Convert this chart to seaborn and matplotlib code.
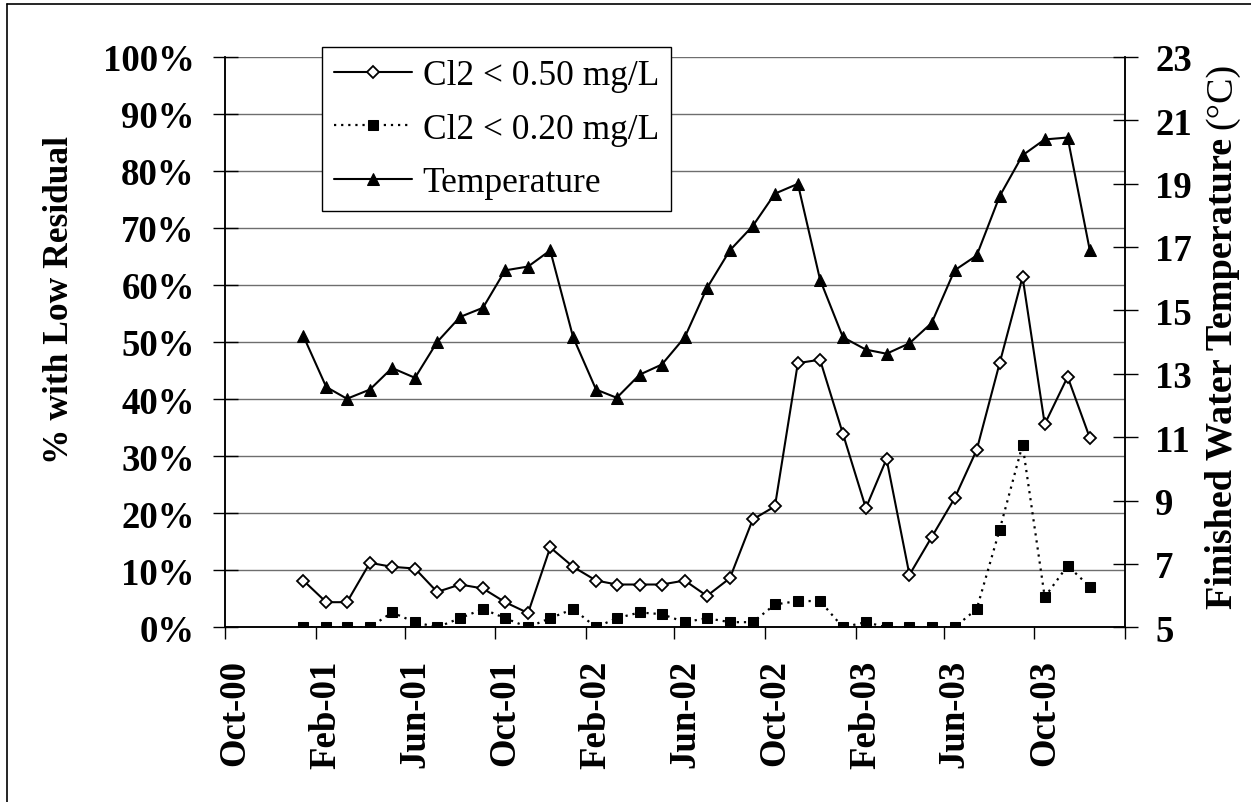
import matplotlib
matplotlib.use("Agg")
import matplotlib.pyplot as plt
import matplotlib.transforms as mtransforms
import matplotlib.dates as mdates
from matplotlib.lines import Line2D
from matplotlib.ticker import FixedLocator, PercentFormatter, MultipleLocator
import seaborn as sns
import pandas as pd
import numpy as np

# ---- data -------------------------------------------------------------
months = pd.period_range("2001-01", "2003-12", freq="M")
sample_dates = months.to_timestamp() + pd.Timedelta(days=14)   # mid-month samples

cl2_below_050 = [8.2, 4.4, 4.4, 11.3, 10.6, 10.3, 6.2, 7.5, 6.8, 4.4, 2.5, 14.0,
                 10.6, 8.2, 7.5, 7.5, 7.5, 8.2, 5.5, 8.6, 18.9, 21.2, 46.3, 46.9,
                 33.9, 20.9, 29.5, 9.2, 15.8, 22.6, 31.1, 46.3, 61.4, 35.6, 43.9, 33.2]

cl2_below_020 = [0.0, 0.0, 0.0, 0.0, 2.6, 0.9, 0.0, 1.6, 3.2, 1.6, 0.0, 1.6,
                 3.2, 0.0, 1.6, 2.6, 2.3, 0.9, 1.6, 0.9, 0.9, 4.0, 4.6, 4.6,
                 0.0, 0.9, 0.0, 0.0, 0.0, 0.0, 3.2, 17.1, 32.0, 5.3, 10.8, 7.1]

temperature = [14.19, 12.58, 12.21, 12.50, 13.18, 12.87, 14.00, 14.79, 15.08, 16.26, 16.38, 16.89,
               14.15, 12.50, 12.24, 12.97, 13.29, 14.15, 15.70, 16.89, 17.66, 18.68, 18.99, 15.97,
               14.15, 13.76, 13.63, 13.96, 14.60, 16.26, 16.73, 18.60, 19.89, 20.39, 20.45, 16.89]

series_labels = ["Cl2 < 0.50 mg/L", "Cl2 < 0.20 mg/L", "Temperature"]

tick_dates = pd.to_datetime(["2000-10-01", "2001-02-01", "2001-06-01", "2001-10-01",
                             "2002-02-01", "2002-06-01", "2002-10-01", "2003-02-01",
                             "2003-06-01", "2003-10-01", "2004-02-01"])
tick_labels = ["Oct-00", "Feb-01", "Jun-01", "Oct-01", "Feb-02", "Jun-02",
               "Oct-02", "Feb-03", "Jun-03", "Oct-03", ""]

temp_ticks = [5, 7, 9, 11, 13, 15, 17, 19, 21, 23]

# ---- style ------------------------------------------------------------
sns.set_theme(style="ticks")
plt.rcParams["font.family"] = ["Liberation Serif", "DejaVu Serif"]
plt.rcParams["axes.unicode_minus"] = False

W, H = 1251, 803
fig = plt.figure(figsize=(W / 100, H / 100), dpi=100)
fig.patch.set_facecolor("white")

left, right, top, bottom = 225, 1125.3, 57.7, 628.3
ax = fig.add_axes([left / W, 1 - bottom / H, (right - left) / W, (bottom - top) / H])
ax2 = ax.twinx()

df = pd.DataFrame({
    "date": sample_dates,
    "low050": np.array(cl2_below_050) / 100,
    "low020": np.array(cl2_below_020) / 100,
    "temp": temperature,
})

sns.lineplot(data=df, x="date", y="low050", ax=ax, color="black", lw=1.5,
             marker="D", markersize=5.8, markerfacecolor="white",
             markeredgecolor="black", markeredgewidth=1.3, legend=False)
sns.lineplot(data=df, x="date", y="low020", ax=ax, color="black", lw=1.6,
             linestyle=(0, (1.0, 2.2)), marker="s", markersize=7.2,
             markerfacecolor="black", markeredgecolor="black", legend=False)
sns.lineplot(data=df, x="date", y="temp", ax=ax2, color="black", lw=1.5,
             marker="^", markersize=9, markerfacecolor="black",
             markeredgecolor="black", legend=False)

# ---- axes -------------------------------------------------------------
ax.set_xlim(pd.Timestamp("2000-10-01"), pd.Timestamp("2004-02-01"))
ax.set_ylim(0, 1)
ax2.set_ylim(5, 23)

ax.yaxis.set_major_locator(MultipleLocator(0.1))
ax.yaxis.set_major_formatter(PercentFormatter(1.0, decimals=0))
ax2.yaxis.set_major_locator(FixedLocator(temp_ticks))

ax.xaxis.set_major_locator(FixedLocator(mdates.date2num(tick_dates)))
ax.set_xticklabels(tick_labels, rotation=90)

ax.set_xlabel("")
ax.set_ylabel("")
ax2.set_ylabel("")

for lbl in ax.get_xticklabels() + ax.get_yticklabels() + ax2.get_yticklabels():
    lbl.set_fontsize(26.5)
    lbl.set_fontweight("bold")
    lbl.set_color("black")

ax.tick_params(axis="y", left=True, direction="inout", length=18, width=1.0,
               pad=12.7, color="black")
ax.tick_params(axis="x", bottom=True, direction="out", length=8.6, width=1.0,
               pad=14.4, color="black")
ax2.tick_params(axis="y", right=True, direction="inout", length=18, width=1.0,
                pad=12.5, color="black")

ax.grid(axis="y", color="#6e6e6e", lw=1.0)
ax.grid(axis="x", visible=False)
ax2.grid(False)
ax.set_axisbelow(True)

for a in (ax, ax2):
    a.spines["top"].set_visible(False)
    for s in ("left", "right", "bottom"):
        a.spines[s].set_color("black")
        a.spines[s].set_linewidth(1.1)

# shift the rotated month labels slightly right of their ticks
shift = mtransforms.ScaledTranslation(0.10, 0, fig.dpi_scale_trans)
for lbl in ax.get_xticklabels():
    lbl.set_transform(lbl.get_transform() + shift)

# ---- axis titles ------------------------------------------------------
fig.text(60 / W, 1 - 300 / H, "% with Low Residual", rotation=90,
         ha="center", va="center", fontsize=25.5, fontweight="bold", color="black")

renderer = fig.canvas.get_renderer()
rx = 1222 / W
t1 = fig.text(rx, 0, "Finished Water Temperature", rotation=90, ha="center",
              va="bottom", fontsize=27.5, fontweight="bold", color="black")
t2 = fig.text(rx, 0, "(\u00b0C)", rotation=90, ha="center", va="bottom",
              fontsize=27.5, color="black")
h1 = t1.get_window_extent(renderer).height
h2 = t2.get_window_extent(renderer).height
gap = 9
total = h1 + gap + h2
start = (H - 336) - total / 2
t1.set_position((rx, start / H))
t2.set_position((rx, (start + h1 + gap) / H))

# ---- legend -----------------------------------------------------------
handles = ax.get_lines()[:2] + ax2.get_lines()[:1]
leg = ax2.legend(handles, series_labels, loc="upper left",
                 bbox_to_anchor=(322 / W, 1 - 48 / H), bbox_transform=fig.transFigure,
                 frameon=True, fancybox=False, framealpha=1, edgecolor="black",
                 fontsize=25.5, handlelength=2.2, handletextpad=0.3,
                 labelspacing=0.58, borderpad=0.34, borderaxespad=0, numpoints=1)
leg.get_frame().set_linewidth(1.0)
for txt in leg.get_texts():
    txt.set_color("black")

# ---- outer frame ------------------------------------------------------
fig.add_artist(Line2D([7 / W, 7 / W], [0, 1 - 5 / H], transform=fig.transFigure,
                      color="black", lw=1.2))
fig.add_artist(Line2D([7 / W, 1], [1 - 5 / H, 1 - 5 / H], transform=fig.transFigure,
                      color="black", lw=1.2))

fig.savefig("out.png", dpi=100, facecolor="white")
